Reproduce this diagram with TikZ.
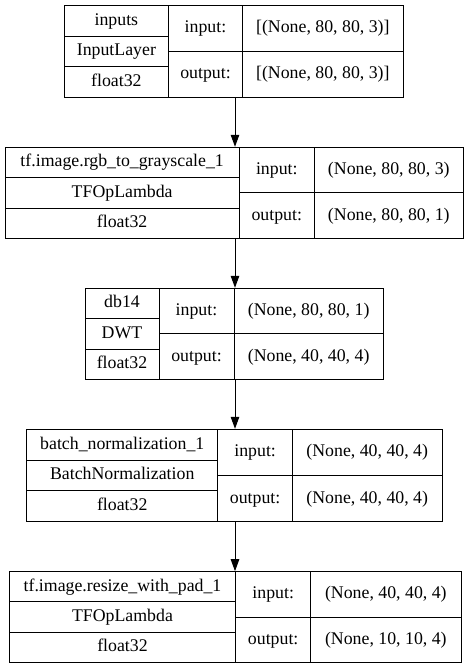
\documentclass[tikz,border=0pt]{standalone}
\usepackage{fontspec}
\setmainfont{Liberation Serif}
\newfontfamily\lblfont{Liberation Serif}
\usetikzlibrary{arrows.meta,fit}
\tikzset{
  frame/.style={draw=black, line width=1pt, inner sep=0pt},
  rule/.style={draw=black, line width=1pt},
  lbl/.style={inner sep=0pt, text height=12.4pt, text depth=3.6pt, font=\lblfont\fontsize{17.8}{20}\selectfont},
  arr/.style={draw=black, line width=1pt, -{Triangle[length=12pt,width=8.5pt]}}
}
\newcommand\layerframe[7]{%
  \pgfmathsetmacro\lL{#2}\pgfmathsetmacro\lT{#3}\pgfmathsetmacro\lR{#4}\pgfmathsetmacro\lB{#5}%
  \pgfmathsetmacro\lA{#6}\pgfmathsetmacro\lC{#7}%
  \pgfmathsetmacro\rA{\lT+(\lB-\lT)/3}\pgfmathsetmacro\rB{\lT+2*(\lB-\lT)/3}\pgfmathsetmacro\rM{(\lT+\lB)/2}%
  \coordinate (#1-nw) at (\lL,\lT);
  \coordinate (#1-se) at (\lR,\lB);
  \node[frame, fit=(#1-nw)(#1-se)] (#1) {};
  \draw[rule] (\lA,\lT) -- (\lA,\lB);
  \draw[rule] (\lC,\lT) -- (\lC,\lB);
  \draw[rule] (\lL,\rA) -- (\lA,\rA);
  \draw[rule] (\lL,\rB) -- (\lA,\rB);
  \draw[rule] (\lA,\rM) -- (\lR,\rM);
}
\newcommand\layertext[6]{%
  \pgfmathsetmacro\xa{(\lL+\lA)/2}\pgfmathsetmacro\xb{(\lA+\lC)/2}\pgfmathsetmacro\xc{(\lC+\lR)/2}%
  \pgfmathsetmacro\ya{(\lT+\rA)/2}\pgfmathsetmacro\yb{(\rA+\rB)/2}\pgfmathsetmacro\yc{(\rB+\lB)/2}%
  \pgfmathsetmacro\yi{(\lT+\rM)/2}\pgfmathsetmacro\yo{(\rM+\lB)/2}%
  \node[lbl] (#1-name) at (\xa,\ya) {#2};
  \node[lbl] (#1-type) at (\xa,\yb) {#3};
  \node[lbl] (#1-dtype) at (\xa,\yc) {float32};
  \node[lbl] (#1-inl) at (\xb,\yi) {input:};
  \node[lbl] (#1-outl) at (\xb,\yo) {output:};
  \node[lbl] (#1-in) at (\xc,\yi) {#4};
  \node[lbl] (#1-out) at (\xc,\yo) {#5};
}
\begin{document}
\begin{tikzpicture}[x=1pt,y=-1pt]
\useasboundingbox (0,0) rectangle (469,669);
\fill[white] (0,0) rectangle (469,669);
\coordinate (ax) at (235,0);

\layerframe{b1}{64.5}{5.3}{403}{97.5}{168.3}{242.7}
\layertext{b1}{inputs}{InputLayer}{[(None, 80, 80, 3)]}{[(None, 80, 80, 3)]}{}

\layerframe{b2}{5}{147.3}{463.3}{238.5}{239.3}{314.3}
\layertext{b2}{tf.image.rgb\_to\_grayscale\_1}{TFOpLambda}{(None, 80, 80, 3)}{(None, 80, 80, 1)}{}

\layerframe{b3}{85}{288.3}{383.3}{379.5}{159}{234}
\layertext{b3}{db14}{DWT}{(None, 80, 80, 1)}{(None, 40, 40, 4)}{}

\layerframe{b4}{26.7}{429.3}{442}{521.7}{217.8}{292.5}
\layertext{b4}{batch\_normalization\_1}{BatchNormalization}{(None, 40, 40, 4)}{(None, 40, 40, 4)}{}

\layerframe{b5}{9.3}{571.7}{461}{662.3}{235.7}{310.7}
\layertext{b5}{tf.image.resize\_with\_pad\_1}{TFOpLambda}{(None, 40, 40, 4)}{(None, 10, 10, 4)}{}

\draw[arr] (b1.south -| ax) -- (b2.north -| ax);
\draw[arr] (b2.south -| ax) -- (b3.north -| ax);
\draw[arr] (b3.south -| ax) -- (b4.north -| ax);
\draw[arr] (b4.south -| ax) -- (b5.north -| ax);
\end{tikzpicture}
\end{document}
